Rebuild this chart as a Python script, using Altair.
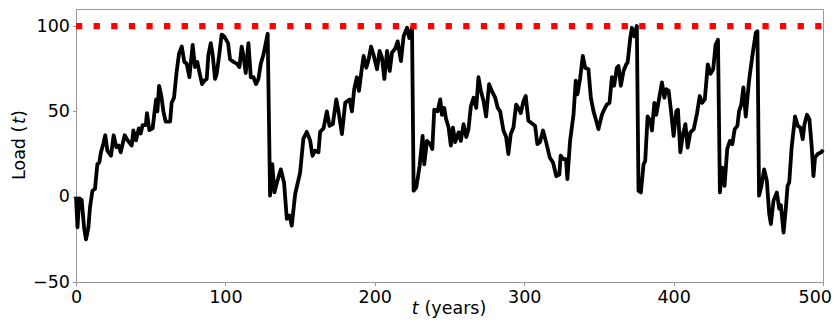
import altair as alt
import pandas as pd

# Time (years) and load values
t_years = [
    0, 1, 2.2, 3.8, 5.4, 6.7, 8.3, 9.4, 11, 12.7, 14.3, 15.6, 16.7, 18.3, 19.6, 21, 23.4, 25.2, 27, 28.6,
    29.9, 32.6, 34.6, 37.3, 38.4, 40.2, 42, 43.3, 44.6, 46.7, 47.5, 49.1, 51.3, 52.5, 53.6, 54.5, 55.6, 57.1,
    58.5, 60, 63, 64, 65.6, 67.2, 69, 70.8, 72.5, 74.1, 75.9, 78.1, 79.7, 81.2, 82.6, 84.4, 85.9, 87.5, 88.6,
    90.2, 91.5, 93.1, 94.2, 96, 97.5, 99.1, 101.8, 103.1, 105.4, 107.6, 109.4, 110.9, 112, 113.6, 115.4, 117,
    118.8, 120.5, 122.1, 123.7, 125.4, 128.3,
    129.9, 131.4, 132.8, 134.4, 137.1, 139.3, 141.1, 142.9, 144.4, 146.7, 150, 152.2, 154.5, 156.7, 158.3,
    160.1, 162.3, 163.4, 165.7, 167.9, 169.7, 171.9, 174.2, 175.7, 178, 180.2, 183.1, 184.7, 186.2, 188,
    189.4, 191, 192.5, 194.3, 195.9, 197.5, 199.2, 201.5, 203.2, 204.8, 206.4, 208.2, 210, 211.5, 213.8,
    215.3, 217.5, 219.3, 221.6, 223.1, 224.9,
    226, 227.8, 230, 232, 233.1, 234.9, 237.1, 238.5, 239.8, 242, 243.8, 244.9, 246.5, 247.6, 249.4, 250.9,
    252.3, 253.8, 256.1, 257.6, 259.4, 261.2, 262.7, 264.3, 266.1, 267.9, 269.4, 271, 272.8, 274.5, 276.5,
    278.3, 280.6, 282.3, 283.9, 286.1, 287.9, 289.4, 291, 292.8, 294.6, 296.1, 297.7, 299.5, 301, 302.8,
    304.4, 307.3, 308.8, 310.6, 312.6, 315, 317.1, 319.3, 321.5, 323.5, 324.4, 326.2, 328, 328.9, 330.7,
    333, 334.5, 335.6, 337.4, 339.2, 340.8, 343, 344.6, 346.4, 348.2, 349.7, 352, 353.5, 355.3, 357.1,
    358.7, 360.2, 362, 363.1, 364.7, 366.5, 368.3, 369.2, 371, 372.1, 373.6, 375.4,
    376.5, 378.1, 379.9, 381, 382.6, 384.4, 385.5, 387.1, 388.4, 390, 392.2, 393.8, 395.1, 396.7, 398.3,
    400, 401.8, 402.9, 404.5, 406.3, 407.9, 409.4, 411.2, 413.5, 415.7, 417.5, 419.1, 420.9, 422.9, 424.7,
    426.5, 428.1, 429.7,
    431, 432.6, 434.1, 435.9, 437.7, 439.3, 440.9, 442.7, 443.8, 445.3, 446.7, 448.3, 450.5, 452.7, 455,
    456.1,
    457.2, 458.8, 460.6, 462.4, 464, 465.1, 466.9, 469.1, 470.7, 471.8, 473.6, 475.2, 476.3, 477.4, 479,
    481.3, 483.1, 484.9, 486.4, 487.6, 489.3, 490.9, 492.5, 493.6, 494.7, 496.5, 498.8, 500,
]

load_values = [
    0, -18, -1, -2, -18, -25, -18, -6, 3.5, 4.5, 19, 20, 26, 31, 36, 27, 24, 36, 29, 30,
    26, 36, 33, 30, 38.8, 33, 40, 37, 42, 42, 49, 39, 40, 49, 57, 50, 65, 59,
    50, 44, 44, 55, 58, 72, 84, 88, 79, 78, 70, 89, 76, 79, 73, 66, 68, 69, 83,
    90, 83, 69, 72, 84, 95, 94, 90, 80.5, 79, 78, 76, 88, 83, 72.5, 90, 70,
    70, 66, 69, 78, 83, 95.5,
    0.6, 19, 2.5, 8, 16, 8, -13, -11, -17, 1.6, 14, 34, 38, 33, 24,
    27, 26, 38, 40, 50, 41.5, 42.5, 57, 50, 36.7, 55, 57, 50, 63, 70,
    62, 73, 82.5, 75.6, 80.5, 88, 83, 74.7, 85.4, 81.5, 69, 85.4, 73.7, 84.4, 87,
    91, 79.5, 94, 99, 93, 99,
    3.5, 5.5, 18, 35.6, 19, 32.7, 30.8, 28, 51, 50, 57, 48, 52, 46, 40.5, 30,
    40.5, 32, 37.7, 32.7, 42.5, 35, 39.6, 53, 58, 52, 70, 62, 56, 47, 66,
    62, 58, 52, 50, 38.8, 35, 25, 36.7, 40.5, 54, 52, 49, 56, 59, 44.5,
    43.5, 41.5, 30.8, 32, 38.8, 30.8, 23, 20, 12, 13, 24, 22, 22, 10.3, 32.7,
    48, 68, 60, 69, 82.5, 75.6, 74.7, 58, 50, 44.5, 39.6, 48, 51, 54, 55,
    70, 65, 75.6, 76.6, 65, 73.7, 77.6, 78.5, 93, 99, 94, 100,
    3.5, 2.5, 19, 21, 47, 44.5, 38.8, 55, 48, 56, 67, 58, 63, 62, 50,
    35.6, 50, 51, 26, 36.7, 42.5, 28.8, 37.7, 39.6, 49, 59, 55, 57, 77.6, 72,
    74.7, 89, 92,
    2.5, 17, 6.4, 28, 32.7, 30.8, 39.6, 41.5, 50, 54, 64, 47, 68, 82.5, 96,
    97,
    0.6, 6.4, 16, 9.4, -10, -16, -2.3, 2.5, -7, -5, -21, -6, 6.4, 8.4, 28.8,
    47, 41.5, 40.5, 33.7, 42.5, 48, 45.4, 28.8, 12, 23, 25, 26, 27.5,
]

threshold = 100
x_ticks = [0, 100, 200, 300, 400, 500]
y_ticks = [-50, 0, 50, 100]

df = pd.DataFrame({"t": t_years, "load": load_values})
thr_df = pd.DataFrame({"x0": [0], "x1": [500], "y": [threshold]})

FONT = "DejaVu Sans"
FS = 17.5

xscale = alt.Scale(domain=[0, 500], nice=False, zero=False)
yscale = alt.Scale(domain=[-50, 110], nice=False, zero=False)

line = alt.Chart(df).mark_line(color="black", strokeWidth=3.8, strokeJoin="round").encode(
    x=alt.X("t:Q", scale=xscale,
            axis=alt.Axis(values=x_ticks, title=None, format="d",
                          labelExpr="datum.value == 500 ? '' : datum.label")),
    y=alt.Y("load:Q", scale=yscale,
            axis=alt.Axis(values=y_ticks, title=None, format="d")),
)

thr = alt.Chart(thr_df).mark_rule(color="red", strokeWidth=6.3, strokeDash=[6.3, 11.3],
                                   strokeCap="butt").encode(
    x=alt.X("x0:Q", scale=xscale),
    x2="x1:Q",
    y=alt.Y("y:Q", scale=yscale),
)

one = pd.DataFrame({"a": [0]})

def txt(s, x, y, italic=False, angle=0, align="left", baseline="alphabetic"):
    kw = dict(text=s, font=FONT, fontSize=FS, color="black", align=align,
              baseline=baseline)
    if italic:
        kw["fontStyle"] = "italic"
    if angle:
        kw["angle"] = angle
    return alt.Chart(one).mark_text(**kw).encode(x=alt.value(x), y=alt.value(y))

labels = [
    txt("t", 335.7, 305, italic=True),
    txt("(years)", 348.5, 305),
    txt("Load (", -51, 171, angle=270),
    txt("t", -51, 115, italic=True, angle=270),
    txt(")", -51, 108, angle=270),
    # last x tick label, kept inside the page edge
    txt(str(x_ticks[-1]), 756, 279.5, align="right", baseline="top"),
]

chart = alt.layer(line, thr, *labels).properties(
    width=747, height=273,
    autosize=alt.AutoSizeParams(type="none"),
    padding={"left": 68, "top": 1, "right": 9, "bottom": 36},
).configure_view(
    stroke="#999999", strokeWidth=1
).configure_axis(
    grid=False,
    domainColor="#999999",
    domainWidth=1,
    tickColor="#999999",
    tickSize=3.5,
    tickWidth=1,
    labelFont=FONT,
    labelFontSize=FS,
    labelColor="black",
    labelPadding=3,
    labelFlush=False,
    labelOverlap=False,
)

chart.save("out.html", embed_options={"renderer": "svg", "actions": False})
